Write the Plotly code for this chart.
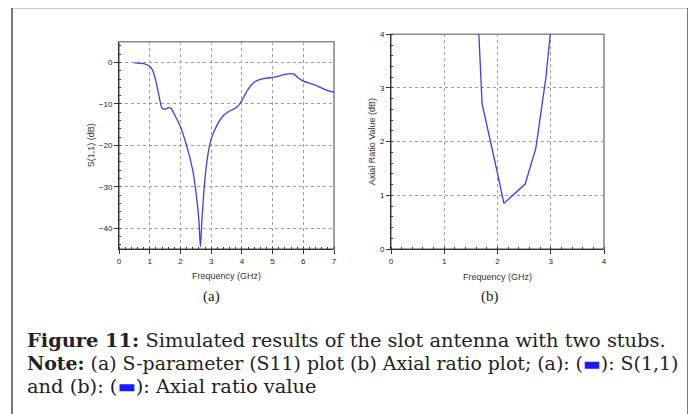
import plotly.graph_objects as go

# ---- data ----
s11_freq = [0.5, 0.8, 1.0, 1.1, 1.2, 1.3, 1.4, 1.5, 1.6, 1.7, 1.8, 2.0, 2.2, 2.4, 2.5, 2.6,
            2.65, 2.7, 2.8, 2.9, 3.0, 3.2, 3.4, 3.6, 3.8, 3.9, 4.0, 4.2, 4.4, 4.6, 4.8,
            5.0, 5.2, 5.4, 5.6, 5.7, 5.8, 6.0, 6.2, 6.4, 6.6, 6.8, 7.0]
s11_db = [-0.1, -0.3, -0.9, -2.0, -4.5, -8.0, -11.0, -11.3, -10.9, -11.1, -12.5, -15.5, -20.0,
          -26.0, -31.0, -38.0, -44.5, -38.0, -28.0, -22.0, -18.5, -15.0, -12.8, -11.7, -11.0,
          -10.3, -9.2, -6.5, -4.8, -4.1, -3.8, -3.6, -3.3, -2.9, -2.7, -2.8, -3.5, -4.5,
          -5.0, -5.5, -6.2, -6.8, -7.2]

ar_freq = [1.65, 1.71, 1.98, 2.12, 2.52, 2.72, 2.91, 2.99]
ar_db = [4.0, 2.71, 1.5, 0.85, 1.21, 1.88, 3.2, 4.0]

# page has an 8px body margin; figure sized to fit the 696x414 window
OFF = 8
W, H = 696 - OFF, 414 - OFF

def fx(px):
    return (px - OFF) / W

def fy(py):
    return 1 - (py - OFF) / H

fig = go.Figure()
fig.add_trace(go.Scatter(x=s11_freq, y=s11_db, mode="lines",
                         line=dict(color="#3a3aff", width=1.3, shape="spline", smoothing=0.6),
                         xaxis="x", yaxis="y", showlegend=False))
fig.add_trace(go.Scatter(x=ar_freq, y=ar_db, mode="lines", line=dict(color="#3a3aff", width=1.3),
                         xaxis="x2", yaxis="y2", showlegend=False))

tickfont = dict(family="Liberation Sans, Arial", size=8, color="#222")
titlefont = dict(family="Liberation Sans, Arial", size=9, color="#333")

def axis_common():
    return dict(showgrid=True, gridcolor="#9a9a9a", griddash="dot", gridwidth=1,
                zeroline=False, showline=True, linecolor="#333", linewidth=1,
                ticks="outside", ticklen=4, tickcolor="#333", tickfont=tickfont,
                automargin=False,
                minor=dict(ticks="inside", ticklen=2, tickcolor="#333", showgrid=False))

xa = axis_common(); xa.update(domain=[fx(119), fx(334)], range=[0, 7], dtick=1, tick0=0, anchor="y",
                              title=dict(text="Frequency (GHz)", font=titlefont, standoff=8))
xa["minor"].update(dtick=0.2)
ya = axis_common(); ya.update(domain=[fy(249), fy(41.7)], range=[-45, 5], dtick=10, tick0=0, anchor="x",
                              title=dict(text="S(1,1) (dB)", font=titlefont, standoff=2))
ya["minor"].update(dtick=2)
xb = axis_common(); xb.update(domain=[fx(391), fx(604)], range=[0, 4], dtick=1, tick0=0, anchor="y2",
                              title=dict(text="Frequency (GHz)", font=titlefont, standoff=9))
xb["minor"].update(dtick=0.2)
yb = axis_common(); yb.update(domain=[fy(249), fy(34.3)], range=[0, 4], dtick=1, tick0=0, anchor="x2",
                              title=dict(text="Axial Ratio Value (dB)", font=titlefont, standoff=2))
yb["minor"].update(dtick=0.2)

shapes = []
for xr, yr in [("x", "y"), ("x2", "y2")]:
    shapes.append(dict(type="rect", xref=xr + " domain", yref=yr + " domain", x0=0, x1=1, y0=0, y1=1,
                       line=dict(color="#8a8a8a", width=1.6), layer="below"))
shapes.append(dict(type="rect", xref="paper", yref="paper", x0=fx(12), x1=fx(688), y0=fy(430), y1=fy(7.5),
                   line=dict(color="#333", width=1.3)))

serif = "DejaVu Serif, serif"
blue = '<span style="color:#1a1aff">▬</span>'
captions = [
    ("<b>Figure 11:</b> Simulated results of the slot antenna with two stubs.", 340, 19.4),
    ("<b>Note:</b> (a) S-parameter (S11) plot (b) Axial ratio plot; (a): (" + blue + "): S(1,1)", 363, 18.9),
    ("and (b): (" + blue + "): Axial ratio value", 386, 19.4),
]
annotations = [
    dict(text="(a)", x=fx(211), y=fy(296), xref="paper", yref="paper", showarrow=False,
         xanchor="center", yanchor="middle",
         font=dict(family="Liberation Serif, serif", size=15, color="#222")),
    dict(text="(b)", x=fx(490), y=fy(296), xref="paper", yref="paper", showarrow=False,
         xanchor="center", yanchor="middle",
         font=dict(family="Liberation Serif, serif", size=15, color="#222")),
]
for txt, ypx, fs in captions:
    annotations.append(dict(text=txt, x=fx(25), y=fy(ypx), xref="paper", yref="paper", showarrow=False,
                            xanchor="left", yanchor="middle",
                            font=dict(family=serif, size=fs, color="#222")))

fig.update_layout(width=W, height=H, margin=dict(l=0, r=0, t=0, b=0, autoexpand=False),
                  paper_bgcolor="white", plot_bgcolor="white",
                  xaxis=xa, yaxis=ya, xaxis2=xb, yaxis2=yb,
                  shapes=shapes, annotations=annotations)

fig.write_html("out.html")
